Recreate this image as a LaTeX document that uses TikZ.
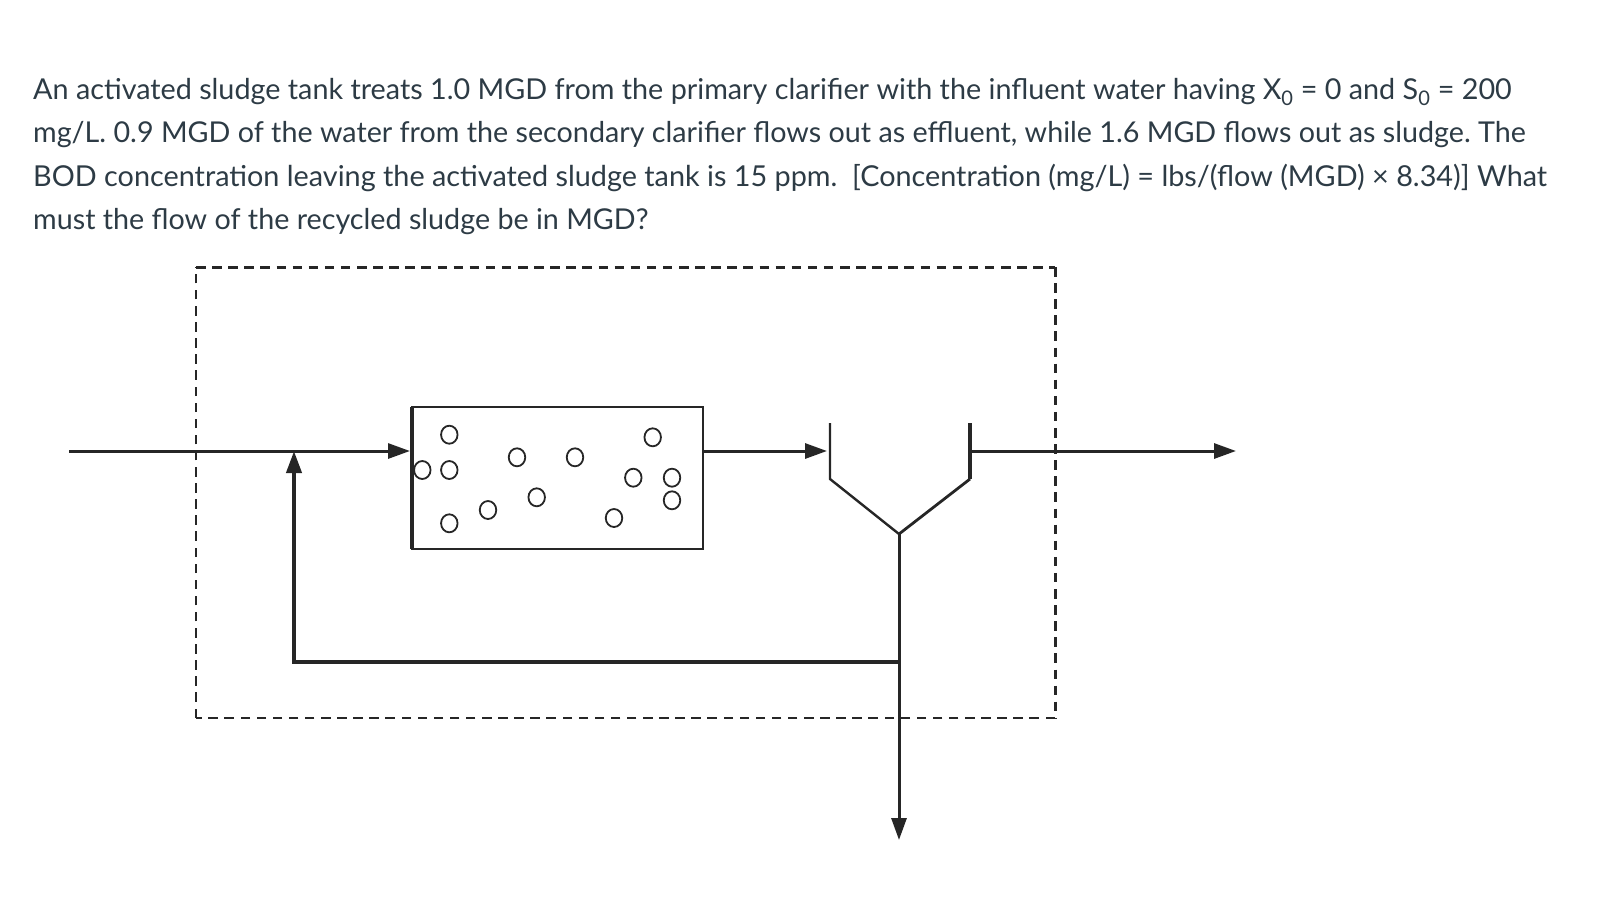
\documentclass[tikz,border=0pt]{standalone}
\usepackage{fontspec}
\setmainfont{Lato}
\usetikzlibrary{positioning,calc,arrows.meta,shapes.geometric}
\definecolor{textgray}{HTML}{2D3B45}
\definecolor{ink}{HTML}{262626}
\tikzstyle{textline} = [inner sep=0pt, anchor=base west, text=textgray, font=\fontsize{28.7}{44}\selectfont\frenchspacing]
\tikzstyle{block} = [draw=ink, fill=white, rectangle, line width=2.8pt, outer sep=0pt, minimum width=291pt, minimum height=142pt]
\tikzstyle{bubble} = [draw=ink, ellipse, line width=1.8pt, inner sep=0pt, minimum width=16.5pt, minimum height=18pt]
\tikzstyle{flow} = [draw=ink, line width=3pt, -{Triangle[length=22pt,width=15pt]}]
\tikzstyle{boundary} = [draw=ink, dash pattern=on 9.5pt off 6.6pt]

\begin{document}
\begin{tikzpicture}[x=1pt, y=-1pt]
        \useasboundingbox (0,0) rectangle (1602,906);

        \node [textline, font=\fontsize{28.75}{44}\selectfont\frenchspacing] (line1) at (33,99.5) {An activated sludge tank treats 1.0 MGD from the primary clarifier with the influent water having X\textsubscript{0} = 0 and S\textsubscript{0} = 200};
        \node [textline] (line2) at (33,142.7) {mg/L. 0.9 MGD of the water from the secondary clarifier flows out as effluent, while 1.6 MGD flows out as sludge. The};
        \node [textline, font=\fontsize{28.8}{44}\selectfont\frenchspacing] (line3) at (33,186) {BOD concentration leaving the activated sludge tank is 15 ppm.\ \ [Concentration (mg/L) = lbs/(flow (MGD) × 8.34)] What};
        \node [textline] (line4) at (33,229.3) {must the flow of the recycled sludge be in MGD?};

        \coordinate (bl) at (196,718);
        \coordinate (tl) at (196,267);
        \coordinate (tr) at (1055,267);
        \coordinate (br) at (1055,718);
        \draw [boundary, line width=2pt] (bl) -- (tl);
        \draw [boundary, line width=3pt] (tl) -- (tr);
        \draw [boundary, line width=3pt] (tr) -- (br);
        \draw [boundary, line width=2.2pt] (br) -- (bl);

        \node [block] (tank) at (557.5,478) {};
        \draw [draw=ink, line width=3.6pt] (tank.north west) -- (tank.south west);
        \foreach \x/\y [count=\i] in {449.3/434.7, 422.3/470, 449.3/470, 449.3/523.3, 488/510, 517/457.3, 536.7/497.3, 575/457.3, 652.7/437.3, 633.3/477.7, 672/477.7, 672/500.3, 614/518}
            \node [bubble] (bub\i) at (\x,\y) {};

        \coordinate (infl) at (69,451);
        \coordinate (mix) at (294,451);
        \coordinate (tankin) at (410,451);
        \coordinate (tankout) at (704,451);
        \coordinate (clarin) at (827,451);
        \coordinate (clartl) at (830,423);
        \coordinate (clarbl) at (830,479);
        \coordinate (clarbot) at (899,534);
        \coordinate (clarbr) at (970,479);
        \coordinate (clartr) at (970,423);
        \coordinate (clarout) at (970,451);
        \coordinate (effl) at (1236,451);
        \coordinate (rec) at (899,662);
        \coordinate (recl) at (294,662);
        \coordinate (waste) at (899,840);

        \draw [flow] (infl) -- (tankin);
        \draw [flow] (tankout) -- (clarin);
        \draw [flow] (clarout) -- (effl);

        \draw [draw=ink, line width=2.4pt] (clartl) -- (clarbl) -- (clarbot);
        \draw [draw=ink, line width=2.8pt] (clarbot) -- (clarbr);
        \draw [draw=ink, line width=4pt] (clarbr) -- (clartr);

        \draw [flow] (clarbot) -- (waste);
        \draw [flow, line width=4pt] (rec) -- (recl) -- (mix);
    \end{tikzpicture}
\end{document}
